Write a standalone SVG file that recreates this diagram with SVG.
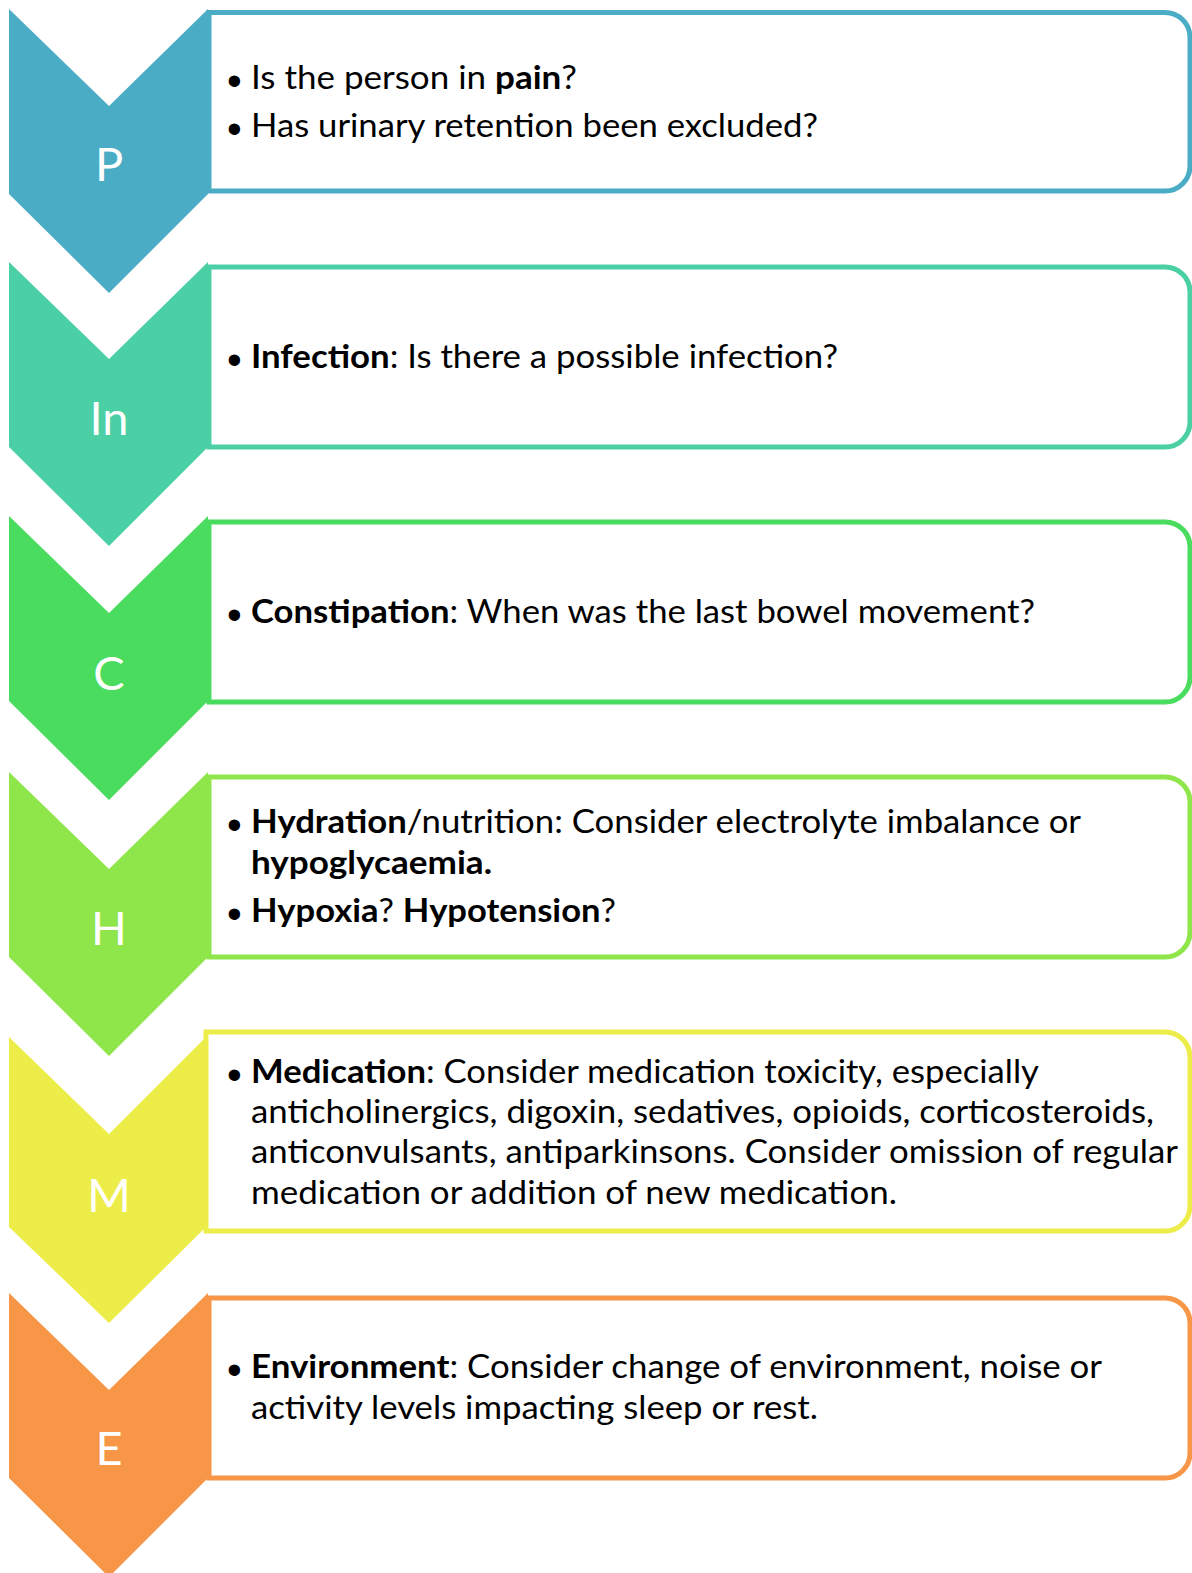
<svg xmlns="http://www.w3.org/2000/svg" width="1192" height="1573" viewBox="0 0 1192 1573">
<style>
.bx{fill:#ffffff;stroke-width:5}
.lbl{font-family:Lato,"Liberation Sans",sans-serif;font-size:47px;fill:#ffffff;text-anchor:middle}
.t{font-family:Lato,"Liberation Sans",sans-serif;font-size:33px;fill:#000000}
.b{font-weight:700}
.bu{font-family:"Liberation Sans",sans-serif;font-size:42px;fill:#000000}
</style>
<rect width="1192" height="1573" fill="#ffffff"/>
<g id="node-P">
<path d="M9,9 L109,106 L208,9 V194 L109,293 L9,194 Z" fill="#4BACC6"/>
<path class="bx" stroke="#4BACC6" d="M209,12.5 H1165 A25,25 0 0 1 1190,37.5 V166 A25,25 0 0 1 1165,191 H209 Z"/>
<text class="lbl" x="109" y="181">P</text>
<text class="bu" x="227" y="95">•</text>
<text class="bu" x="227" y="143">•</text>
<text class="t" x="251" y="89" textLength="326" lengthAdjust="spacingAndGlyphs">Is the person in <tspan class="b">pain</tspan>?</text>
<text class="t" x="251" y="137" textLength="567" lengthAdjust="spacingAndGlyphs">Has urinary retention been excluded?</text>
</g>
<g id="node-In">
<path d="M9,262 L109,359 L208,262 V447 L109,546 L9,447 Z" fill="#4BD0A5"/>
<path class="bx" stroke="#4BD0A5" d="M209,267 H1165 A25,25 0 0 1 1190,292 V422 A25,25 0 0 1 1165,447 H209 Z"/>
<text class="lbl" x="109" y="435">In</text>
<text class="bu" x="227" y="374">•</text>
<text class="t" x="251" y="368" textLength="587" lengthAdjust="spacingAndGlyphs"><tspan class="b">Infection</tspan>: Is there a possible infection?</text>
</g>
<g id="node-C">
<path d="M9,516 L109,613 L208,516 V701 L109,800 L9,701 Z" fill="#4ADC5E"/>
<path class="bx" stroke="#4ADC5E" d="M209,522 H1165 A25,25 0 0 1 1190,547 V677 A25,25 0 0 1 1165,702 H209 Z"/>
<text class="lbl" x="109" y="690">C</text>
<text class="bu" x="227" y="629">•</text>
<text class="t" x="251" y="623" textLength="784" lengthAdjust="spacingAndGlyphs"><tspan class="b">Constipation</tspan>: When was the last bowel movement?</text>
</g>
<g id="node-H">
<path d="M9,772 L109,869 L208,772 V957 L109,1056 L9,957 Z" fill="#8FE64A"/>
<path class="bx" stroke="#8FE64A" d="M209,777 H1165 A25,25 0 0 1 1190,802 V932 A25,25 0 0 1 1165,957 H209 Z"/>
<text class="lbl" x="109" y="945">H</text>
<text class="bu" x="227" y="839">•</text>
<text class="bu" x="227" y="928">•</text>
<text class="t" x="251" y="833" textLength="830" lengthAdjust="spacingAndGlyphs"><tspan class="b">Hydration</tspan>/nutrition: Consider electrolyte imbalance or</text>
<text class="t b" x="251" y="874" textLength="241" lengthAdjust="spacingAndGlyphs">hypoglycaemia.</text>
<text class="t" x="251" y="922" textLength="365" lengthAdjust="spacingAndGlyphs"><tspan class="b">Hypoxia</tspan>? <tspan class="b">Hypotension</tspan>?</text>
</g>
<g id="node-M">
<path d="M9,1037 L109,1134 L206,1037 V1227 L109,1323 L9,1227 Z" fill="#EDED4A"/>
<path class="bx" stroke="#EDED4A" d="M206,1032 H1165 A25,25 0 0 1 1190,1057 V1206 A25,25 0 0 1 1165,1231 H206 Z"/>
<text class="lbl" x="109" y="1212">M</text>
<text class="bu" x="227" y="1089">•</text>
<text class="t" x="251" y="1083" textLength="788" lengthAdjust="spacingAndGlyphs"><tspan class="b">Medication</tspan>: Consider medication toxicity, especially</text>
<text class="t" x="251" y="1123" textLength="903" lengthAdjust="spacingAndGlyphs">anticholinergics, digoxin, sedatives, opioids, corticosteroids,</text>
<text class="t" x="251" y="1163" textLength="927" lengthAdjust="spacingAndGlyphs">anticonvulsants, antiparkinsons. Consider omission of regular</text>
<text class="t" x="251" y="1204" textLength="646" lengthAdjust="spacingAndGlyphs">medication or addition of new medication.</text>
</g>
<g id="node-E">
<path d="M9,1293 L109,1390 L208,1293 V1478 L109,1577 L9,1478 Z" fill="#F79646"/>
<path class="bx" stroke="#F79646" d="M209,1298 H1165 A25,25 0 0 1 1190,1323 V1453 A25,25 0 0 1 1165,1478 H209 Z"/>
<text class="lbl" x="109" y="1465">E</text>
<text class="bu" x="227" y="1384">•</text>
<text class="t" x="251" y="1378" textLength="851" lengthAdjust="spacingAndGlyphs"><tspan class="b">Environment</tspan>: Consider change of environment, noise or</text>
<text class="t" x="251" y="1419" textLength="567" lengthAdjust="spacingAndGlyphs">activity levels impacting sleep or rest.</text>
</g>
<g id="connectors"></g>
</svg>
